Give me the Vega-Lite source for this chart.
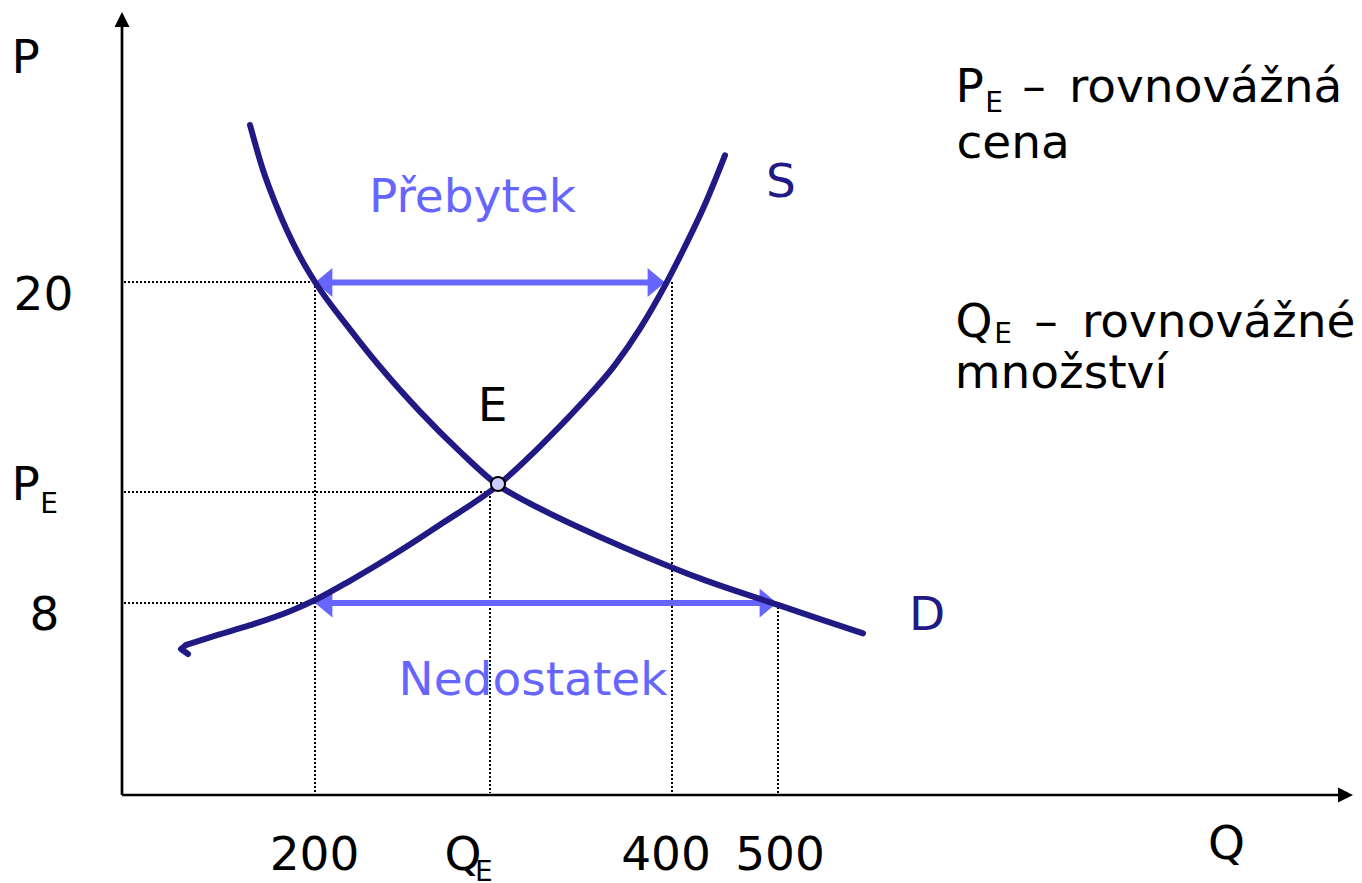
{
  "$schema": "https://vega.github.io/schema/vega-lite/v6.json",
  "width": 1232,
  "height": 783,
  "autosize": {"type": "none"},
  "padding": {"left": 122, "top": 12, "right": 8, "bottom": 88},
  "background": "white",
  "config": {"view": {"stroke": null}, "text": {"font": "DejaVu Sans"}},
  "datasets": {
    "axes": [
      {"x": 0, "y": 0, "x2": 0, "y2": 384},
      {"x": 0, "y": 0, "x2": 608, "y2": 0}
    ],
    "axisHeadUp": [{"x": 0, "y": 387.75}],
    "axisHeadRight": [{"x": 611.75, "y": 0}],
    "dotted": [
      {"x": 1, "x2": 96.5, "y": 256.5, "y2": 256.5},
      {"x": 1, "x2": 184, "y": 151.5, "y2": 151.5},
      {"x": 1, "x2": 96.5, "y": 96, "y2": 96},
      {"x": 96.5, "x2": 96.5, "y": 256.5, "y2": 1},
      {"x": 184, "x2": 184, "y": 151.5, "y2": 1},
      {"x": 275, "x2": 275, "y": 256.5, "y2": 1},
      {"x": 328, "x2": 328, "y": 96, "y2": 1}
    ],
    "shafts": [
      {"x": 104, "x2": 264, "y": 256.25, "y2": 256.25},
      {"x": 104, "x2": 320, "y": 96, "y2": 96}
    ],
    "headsLeft": [{"x": 100.85, "y": 256.25}, {"x": 100.85, "y": 96}],
    "headsRight": [{"x": 267.15, "y": 256.25}, {"x": 323.15, "y": 96}],
    "demand": [
      {"x": 64, "y": 335},
      {"x": 70.5, "y": 312.5},
      {"x": 76.5, "y": 296.3},
      {"x": 82.5, "y": 282.2},
      {"x": 89, "y": 269.2},
      {"x": 96.5, "y": 256.5},
      {"x": 114, "y": 232.85},
      {"x": 129, "y": 214.1},
      {"x": 149, "y": 191.7},
      {"x": 169, "y": 171.7},
      {"x": 187.5, "y": 155.25},
      {"x": 204, "y": 145.75},
      {"x": 219, "y": 138.25},
      {"x": 239, "y": 129.05},
      {"x": 264, "y": 118.3},
      {"x": 289, "y": 108.3},
      {"x": 328, "y": 95.05},
      {"x": 349, "y": 87.9},
      {"x": 370.5, "y": 80.8}
    ],
    "supply": [
      {"x": 32, "y": 75},
      {"x": 47.5, "y": 79.9},
      {"x": 64, "y": 84.9},
      {"x": 84, "y": 91.9},
      {"x": 96.5, "y": 97.5},
      {"x": 114, "y": 107.1},
      {"x": 139, "y": 122.1},
      {"x": 160.5, "y": 136.1},
      {"x": 187.5, "y": 154.5},
      {"x": 209, "y": 174.35},
      {"x": 229, "y": 194.95},
      {"x": 246.5, "y": 215.08},
      {"x": 259, "y": 233.2},
      {"x": 272, "y": 255.7},
      {"x": 280.5, "y": 272.25},
      {"x": 291.5, "y": 295.35},
      {"x": 301.5, "y": 319.85}
    ],
    "supplyHook": [
      {"i": 1, "x": 32, "y": 75},
      {"i": 2, "x": 29.5, "y": 73},
      {"i": 3, "x": 33, "y": 70.5}
    ],
    "equilibrium": [{"x": 188, "y": 155.5}],
    "textCenter": [
      {"t": "20", "x": -39.25, "y": 242.5},
      {"t": "8", "x": -38.75, "y": 82.5},
      {"t": "200", "x": 96.25, "y": -37.5},
      {"t": "400", "x": 272, "y": -37.5},
      {"t": "500", "x": 329, "y": -37.5},
      {"t": "E", "x": 185.25, "y": 187.25},
      {"t": "Q", "x": 552.25, "y": -32},
      {"t": "–", "x": 456, "y": 346.5},
      {"t": "–", "x": 462, "y": 229}
    ],
    "textLeft": [
      {"t": "P", "x": -55.25, "y": 361},
      {"t": "P", "x": -55.25, "y": 147.5},
      {"t": "Q", "x": 161.2, "y": -37.5},
      {"t": "P", "x": 416.7, "y": 346.5},
      {"t": "rovnovážná", "x": 473.5, "y": 346.5},
      {"t": "cena", "x": 417.2, "y": 318.5},
      {"t": "Q", "x": 416.7, "y": 229},
      {"t": "rovnovážné", "x": 480, "y": 229},
      {"t": "množství", "x": 416.35, "y": 203.5}
    ],
    "textSub": [
      {"t": "E", "x": -40.85, "y": 141},
      {"t": "E", "x": 176.5, "y": -43},
      {"t": "E", "x": 431.65, "y": 341.5},
      {"t": "E", "x": 436.15, "y": 226}
    ],
    "textNavy": [
      {"t": "S", "x": 329.5, "y": 299},
      {"t": "D", "x": 402.5, "y": 82.5}
    ],
    "textBlue": [
      {"t": "Přebytek", "x": 175.25, "y": 291.5},
      {"t": "Nedostatek", "x": 205.5, "y": 50}
    ]
  },
  "encoding": {
    "x": {"field": "x", "type": "quantitative", "scale": {"domain": [0, 616], "nice": false, "zero": false}, "axis": null},
    "y": {"field": "y", "type": "quantitative", "scale": {"domain": [0, 391.5], "nice": false, "zero": false}, "axis": null}
  },
  "layer": [
    {
      "data": {"name": "dotted"},
      "mark": {"type": "rule", "color": "#000000", "strokeWidth": 2, "strokeDash": [2, 2]},
      "encoding": {"x2": {"field": "x2"}, "y2": {"field": "y2"}}
    },
    {
      "data": {"name": "axes"},
      "mark": {"type": "rule", "color": "#000000", "strokeWidth": 2.7},
      "encoding": {"x2": {"field": "x2"}, "y2": {"field": "y2"}}
    },
    {
      "data": {"name": "axisHeadUp"},
      "mark": {"type": "point", "shape": "M0,-1L1,1L-1,1Z", "size": 225, "filled": true, "color": "#000000", "opacity": 1}
    },
    {
      "data": {"name": "axisHeadRight"},
      "mark": {"type": "point", "shape": "M1,0L-1,1L-1,-1Z", "size": 225, "filled": true, "color": "#000000", "opacity": 1}
    },
    {
      "data": {"name": "shafts"},
      "mark": {"type": "rule", "color": "#6666ff", "strokeWidth": 6},
      "encoding": {"x2": {"field": "x2"}, "y2": {"field": "y2"}}
    },
    {
      "data": {"name": "headsLeft"},
      "mark": {"type": "point", "shape": "M-0.6,0L0.6,1L0.6,-1Z", "size": 841, "filled": true, "color": "#6666ff", "opacity": 1}
    },
    {
      "data": {"name": "headsRight"},
      "mark": {"type": "point", "shape": "M0.6,0L-0.6,1L-0.6,-1Z", "size": 841, "filled": true, "color": "#6666ff", "opacity": 1}
    },
    {
      "data": {"name": "demand"},
      "mark": {"type": "line", "color": "#211a84", "strokeWidth": 6, "interpolate": "monotone", "strokeCap": "round"}
    },
    {
      "data": {"name": "supply"},
      "mark": {"type": "line", "color": "#211a84", "strokeWidth": 6, "interpolate": "monotone", "strokeCap": "round"}
    },
    {
      "data": {"name": "supplyHook"},
      "mark": {"type": "line", "color": "#211a84", "strokeWidth": 6, "interpolate": "linear", "strokeCap": "round", "strokeJoin": "round"},
      "encoding": {"order": {"field": "i", "type": "quantitative"}}
    },
    {
      "data": {"name": "equilibrium"},
      "mark": {"type": "point", "shape": "circle", "size": 200, "filled": false, "fill": "#ccccff", "stroke": "#000000", "strokeWidth": 2, "opacity": 1, "fillOpacity": 1}
    },
    {
      "data": {"name": "textCenter"},
      "mark": {"type": "text", "align": "center", "baseline": "alphabetic", "fontSize": 47, "color": "#000000"},
      "encoding": {"text": {"field": "t"}}
    },
    {
      "data": {"name": "textLeft"},
      "mark": {"type": "text", "align": "left", "baseline": "alphabetic", "fontSize": 47, "color": "#000000"},
      "encoding": {"text": {"field": "t"}}
    },
    {
      "data": {"name": "textSub"},
      "mark": {"type": "text", "align": "left", "baseline": "alphabetic", "fontSize": 28, "color": "#000000"},
      "encoding": {"text": {"field": "t"}}
    },
    {
      "data": {"name": "textNavy"},
      "mark": {"type": "text", "align": "center", "baseline": "alphabetic", "fontSize": 47, "color": "#211a84"},
      "encoding": {"text": {"field": "t"}}
    },
    {
      "data": {"name": "textBlue"},
      "mark": {"type": "text", "align": "center", "baseline": "alphabetic", "fontSize": 47, "color": "#6666ff"},
      "encoding": {"text": {"field": "t"}}
    }
  ]
}
